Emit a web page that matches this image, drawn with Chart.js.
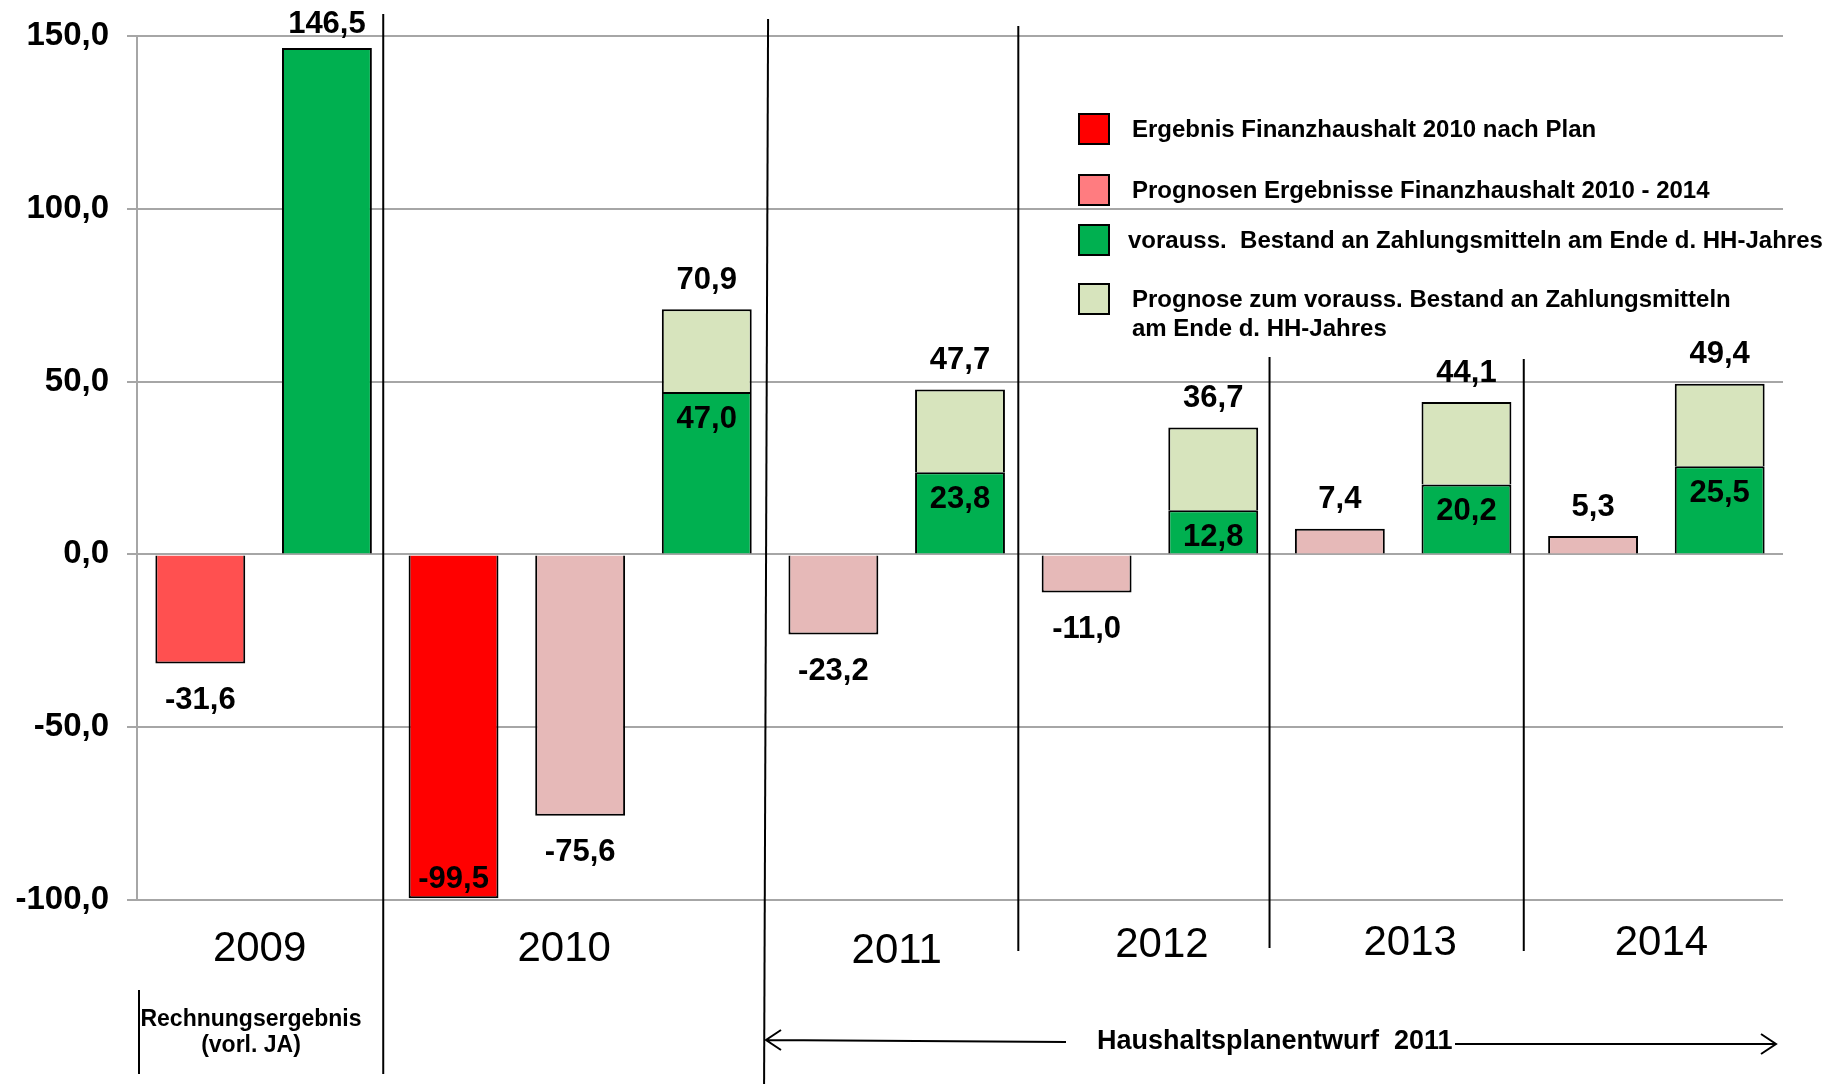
<!DOCTYPE html>
<html><head><meta charset="utf-8">
<script src="https://cdn.jsdelivr.net/npm/chart.js@4/dist/chart.umd.min.js"></script>
<style>html,body{margin:0;padding:0;background:#fff}#wrap{width:1830px;height:1084px;position:relative}</style>
</head><body><div id="wrap"><canvas id="c" width="1830" height="1084"></canvas></div>
<script>
// ---------- DATA ----------
const categories = ['2009 Rechnungsergebnis','2009 Bestand','2010 Plan','2010 Prognose','2010 Bestand',
  '2011 Prognose','2011 Bestand','2012 Prognose','2012 Bestand','2013 Prognose','2013 Bestand','2014 Prognose','2014 Bestand'];
const years = ['2009','2010','2011','2012','2013','2014'];
const yearBars = [[0,1],[2,4],[5,6],[7,8],[9,10],[11,12]];
const rechnungsergebnis = [-31.6,null,null,null,null,null,null,null,null,null,null,null,null];
const ergebnisPlan      = [null,null,-99.5,null,null,null,null,null,null,null,null,null,null];
const prognosen         = [null,null,null,-75.6,null,-23.2,null,-11.0,null,7.4,null,5.3,null];
const bestand           = [null,146.5,null,null,47.0,null,23.8,null,12.8,null,20.2,null,25.5];
const prognoseBestand   = [null,null,null,null,23.9,null,23.9,null,23.9,null,23.9,null,23.9];
const yTicks = [-100,-50,0,50,100,150];
const legendLabels = [
  ['Ergebnis Finanzhaushalt 2010 nach Plan'],
  ['Prognosen Ergebnisse Finanzhaushalt 2010 - 2014'],
  ['vorauss.  Bestand an Zahlungsmitteln am Ende d. HH-Jahres'],
  ['Prognose zum vorauss. Bestand an Zahlungsmitteln','am Ende d. HH-Jahres']
];
const noteLeft = ['Rechnungsergebnis','(vorl. JA)'];
const noteRight = 'Haushaltsplanentwurf  2011';

// ---------- STYLE ----------
const FONT = "'Liberation Sans', Arial, sans-serif";
const C_RE = '#FF5050', C_RED = '#FF0000', C_PINK = '#E6B9B8', C_GREEN = '#00B050', C_LGREEN = '#D7E4BD';
const legendSwatch = ['#FF0000','#FF7C80','#00B050','#D7E4BD'];
const fmt = v => v.toFixed(1).replace('.', ',');

const labelsPlugin = {
  id: 'valueLabels',
  afterDatasetsDraw(chart) {
    const ctx = chart.ctx, area = chart.chartArea;
    ctx.save();
    ctx.font = 'bold 31px ' + FONT;
    ctx.fillStyle = '#000';
    ctx.textAlign = 'center';
    ctx.textBaseline = 'middle';
    chart.data.datasets.forEach((ds, di) => {
      const meta = chart.getDatasetMeta(di);
      ds.data.forEach((v, i) => {
        if (v === null || v === undefined) return;
        const el = meta.data[i];
        const x = el.x;
        if (ds.role === 'bestand') {
          if (prognoseBestand[i] != null) {
            ctx.fillText(fmt(v), x, el.y + 27);
          } else {
            ctx.fillText(fmt(v), x, Math.max(el.y - 29, area.top - 12));
          }
        } else if (ds.role === 'prognoseBestand') {
          ctx.fillText(fmt(v + bestand[i]), x, el.y - 29);
        } else if (v < 0) {
          let y = el.y + 37;
          if (y > area.bottom - 10) y = el.y - 19;
          ctx.fillText(fmt(v), x, y);
        } else {
          ctx.fillText(fmt(v), x, el.y - 29);
        }
      });
    });
    ctx.restore();
  }
};

const decoPlugin = {
  id: 'deco',
  afterDraw(chart) {
    const ctx = chart.ctx, xs = chart.scales.x;
    const px = i => xs.getPixelForValue(i);
    const boundary = i => (px(i) + px(i + 1)) / 2;
    ctx.save();
    // separators
    ctx.strokeStyle = '#000';
    ctx.lineWidth = 2;
    const seps = [
      {after: -1, dx0: 2, dx1: 2, y0: 990, y1: 1074},
      {after: 1, dx0: -7, dx1: -7, y0: 14, y1: 1074},
      {after: 4, dx0: -2, dx1: -6, y0: 19, y1: 1084},
      {after: 6, dx0: -5, dx1: -5, y0: 26, y1: 951},
      {after: 8, dx0: -7, dx1: -7, y0: 357, y1: 948},
      {after: 10, dx0: -6, dx1: -6, y0: 359, y1: 951}
    ];
    seps.forEach(s => {
      const bx = s.after < 0 ? px(0) - (px(1) - px(0)) / 2 : boundary(s.after);
      ctx.beginPath();
      ctx.moveTo(bx + s.dx0, s.y0);
      ctx.lineTo(bx + s.dx1, s.y1);
      ctx.stroke();
    });
    // year labels
    ctx.fillStyle = '#000';
    ctx.textAlign = 'center';
    ctx.textBaseline = 'middle';
    ctx.font = '42px ' + FONT;
    const ydx = [-4, -16, 0, 12, 7, 5];
    const yy = [949, 949, 951, 945, 943, 943];
    years.forEach((y, k) => {
      const [a, b] = yearBars[k];
      ctx.fillText(y, (px(a) + px(b)) / 2 + ydx[k], yy[k]);
    });
    // notes
    ctx.font = 'bold 23px ' + FONT;
    ctx.fillText(noteLeft[0], 251, 1020);
    ctx.fillText(noteLeft[1], 251, 1046);
    ctx.font = 'bold 27px ' + FONT;
    ctx.textAlign = 'left';
    ctx.fillText(noteRight, 1097, 1042);
    // arrows
    ctx.lineWidth = 2;
    ctx.beginPath();
    ctx.moveTo(766, 1040); ctx.lineTo(1066, 1042);
    ctx.moveTo(781, 1030); ctx.lineTo(766, 1040); ctx.lineTo(781, 1050);
    ctx.moveTo(1455, 1044); ctx.lineTo(1776, 1044);
    ctx.moveTo(1761, 1034); ctx.lineTo(1776, 1044); ctx.lineTo(1761, 1054);
    ctx.stroke();
    // legend
    const items = [{y: 129}, {y: 190}, {y: 240}, {y: 299}];
    ctx.font = 'bold 24px ' + FONT;
    items.forEach((it, k) => {
      ctx.fillStyle = legendSwatch[k];
      ctx.fillRect(1079, it.y - 15, 30, 30);
      ctx.strokeStyle = '#000';
      ctx.lineWidth = 2;
      ctx.strokeRect(1079, it.y - 15, 30, 30);
      ctx.fillStyle = '#000';
      legendLabels[k].forEach((line, j) => {
        ctx.fillText(line, k === 2 ? 1128 : 1132, it.y + 1 + j * 29);
      });
    });
    ctx.restore();
  }
};

const common = {borderColor: '#000', borderWidth: 2, categoryPercentage: 1, barPercentage: 0.71};
new Chart(document.getElementById('c'), {
  type: 'bar',
  data: {
    labels: categories,
    datasets: [
      Object.assign({label: 'Rechnungsergebnis', data: rechnungsergebnis, backgroundColor: C_RE, role: 'neg'}, common),
      Object.assign({label: legendLabels[0][0], data: ergebnisPlan, backgroundColor: C_RED, role: 'neg'}, common),
      Object.assign({label: legendLabels[1][0], data: prognosen, backgroundColor: C_PINK, role: 'prog'}, common),
      Object.assign({label: legendLabels[2][0], data: bestand, backgroundColor: C_GREEN, role: 'bestand'}, common),
      Object.assign({label: legendLabels[3].join(' '), data: prognoseBestand, backgroundColor: C_LGREEN, role: 'prognoseBestand'}, common)
    ]
  },
  options: {
    responsive: false,
    animation: false,
    devicePixelRatio: 1,
    layout: {padding: {top: 36, bottom: 184, right: 47, left: 0}},
    plugins: {legend: {display: false}, tooltip: {enabled: false}},
    scales: {
      x: {display: false, stacked: true, offset: true},
      y: {
        stacked: true, min: yTicks[0], max: yTicks[yTicks.length - 1],
        afterBuildTicks: s => { s.ticks = yTicks.map(v => ({value: v})); },
        afterFit: s => { s.width = 137; s.paddingTop = 0; s.paddingBottom = 0; },
        ticks: {callback: v => fmt(v), color: '#000', font: {family: FONT, weight: 'bold', size: 33}, padding: 18},
        grid: {color: '#A6A6A6', lineWidth: 2, tickLength: 10},
        border: {color: '#A6A6A6', width: 2}
      }
    }
  },
  plugins: [labelsPlugin, decoPlugin]
});
</script></body></html>
